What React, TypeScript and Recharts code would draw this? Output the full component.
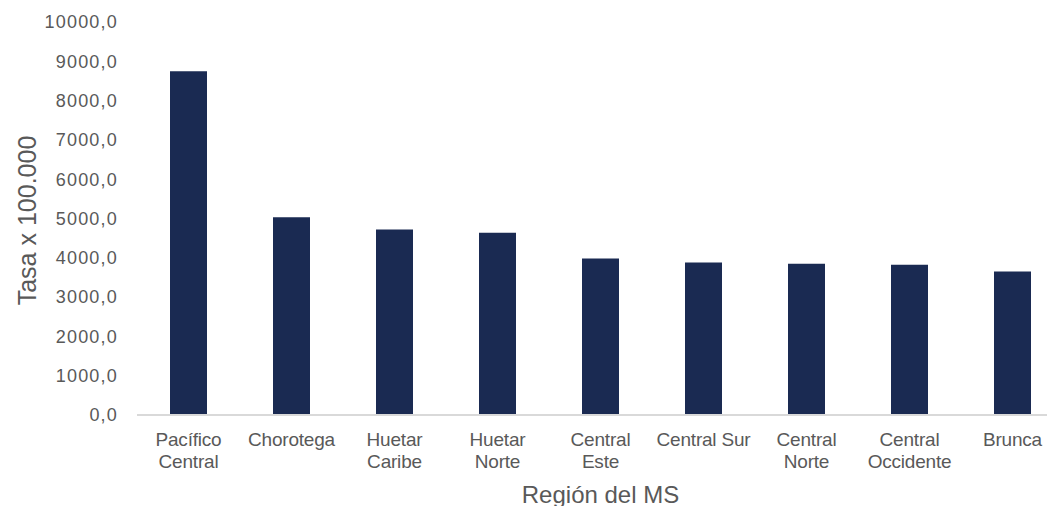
import React from 'react';
import { BarChart, Bar, XAxis, YAxis } from 'recharts';

const categories: string[] = [
  'Pacífico\nCentral',
  'Chorotega',
  'Huetar\nCaribe',
  'Huetar\nNorte',
  'Central\nEste',
  'Central Sur',
  'Central\nNorte',
  'Central\nOccidente',
  'Brunca',
];
const tasa: number[] = [8750, 5030, 4720, 4640, 3980, 3880, 3850, 3820, 3650];
const yTicks: number[] = [0, 1000, 2000, 3000, 4000, 5000, 6000, 7000, 8000, 9000, 10000];

const data = categories.map((c, i) => ({ region: c, tasa: tasa[i] }));

const GRAY = '#595959';
const FONT = '"Liberation Sans", Arial, sans-serif';

const XTick = (props: any) => {
  const { x, y, payload } = props;
  const lines = String(payload.value).split('\n');
  return (
    <text x={x} y={y} textAnchor="middle" fill={GRAY} fontSize={19} fontFamily={FONT} letterSpacing={-0.2}>
      {lines.map((l, i) => (
        <tspan key={i} x={x} y={y + 31 + i * 22}>{l}</tspan>
      ))}
    </text>
  );
};

const YTitle = (props: any) => {
  const vb = props.viewBox || { x: 0, y: 0, width: 0, height: 0 };
  const cx = vb.x + 19;
  const cy = vb.y + vb.height / 2 + 2;
  return (
    <text x={cx} y={cy} transform={`rotate(-90, ${cx}, ${cy})`} textAnchor="middle" dominantBaseline="central" fill={GRAY} fontSize={25} fontFamily={FONT}>
      Tasa x 100.000
    </text>
  );
};

const XTitle = (props: any) => {
  const vb = props.viewBox || { x: 0, y: 0, width: 0, height: 0 };
  const cx = vb.x + vb.width / 2;
  return (
    <text x={cx} y={vb.y + 79} textAnchor="middle" dominantBaseline="central" fill={GRAY} fontSize={24} fontFamily={FONT}>
      Región del MS
    </text>
  );
};

export default function App() {
  return (
    <div style={{ width: 1047, height: 498, overflow: 'hidden', background: '#fff' }}>
      <BarChart
        width={1060}
        height={498}
        data={data}
        margin={{ top: 14, right: 4, bottom: 3, left: 0 }}
      >
        <XAxis
          dataKey="region"
          height={88}
          interval={0}
          tickLine={false}
          tickSize={0}
          tickMargin={0}
          axisLine={{ stroke: '#d9d9d9', strokeWidth: 2 }}
          tick={<XTick />}
          label={<XTitle />}
        />
        <YAxis
          width={129}
          domain={[0, 10000]}
          ticks={yTicks}
          interval={0}
          axisLine={false}
          tickLine={false}
          tickSize={0}
          tickMargin={19}
          tick={{ fill: GRAY, fontSize: 18, fontFamily: FONT, letterSpacing: 1.2 }}
          tickFormatter={(v: number) => v.toFixed(1).replace('.', ',')}
          label={<YTitle />}
        />
        <Bar dataKey="tasa" fill="#1a2a52" barSize={37} isAnimationActive={false} />
      </BarChart>
    </div>
  );
}
